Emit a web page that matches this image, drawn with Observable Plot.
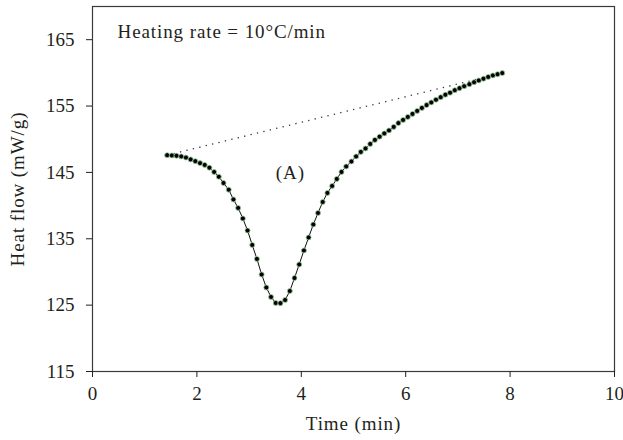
<!DOCTYPE html>
<html>
<head>
<meta charset="utf-8">
<script src="https://cdn.jsdelivr.net/npm/d3@7"></script>
<script src="https://cdn.jsdelivr.net/npm/@observablehq/plot@0.6"></script>
<style>
  html, body { margin: 0; padding: 0; background: #fff; }
  #chart { width: 623px; height: 440px; }
  #chart svg g[aria-label="x-axis label"] text,
  #chart svg g[aria-label="y-axis label"] text,
  #chart svg g[aria-label="text"] text { letter-spacing: 0.9px; }
</style>
</head>
<body>
<div id="chart"></div>
<script>
const time = [1.43,1.52,1.61,1.70,1.79,1.88,1.97,2.06,2.15,2.24,2.33,2.42,2.51,2.61,2.70,2.79,2.88,2.97,3.06,3.15,3.24,3.33,3.42,3.51,3.60,3.69,3.78,3.87,3.96,4.05,4.14,4.23,4.32,4.41,4.50,4.59,4.68,4.77,4.86,4.96,5.05,5.14,5.23,5.32,5.41,5.50,5.59,5.68,5.77,5.86,5.95,6.04,6.13,6.22,6.31,6.40,6.49,6.58,6.67,6.76,6.85,6.94,7.03,7.12,7.22,7.31,7.40,7.49,7.58,7.67,7.76,7.85];
const heatFlow = [147.60,147.56,147.51,147.41,147.23,146.96,146.70,146.40,146.13,145.71,145.07,144.35,143.41,142.40,140.93,139.65,138.06,136.25,134.07,131.96,129.62,127.66,126.23,125.33,125.30,125.78,127.13,129.09,131.13,133.24,135.20,137.16,138.89,140.55,141.91,142.96,144.02,145.07,145.90,146.65,147.41,148.09,148.61,149.29,149.90,150.39,150.88,151.33,151.86,152.43,152.91,153.36,153.82,154.27,154.72,155.14,155.55,155.96,156.33,156.71,157.01,157.39,157.69,157.99,158.29,158.59,158.86,159.12,159.39,159.62,159.80,159.97];
const xTicks = [0, 2, 4, 6, 8, 10];
const yTicks = [115, 125, 135, 145, 155, 165];
const rateNote = [{x: 0.48, y: 166.1, text: "Heating rate = 10°C/min"}];
const peakNote = [{x: 3.79, y: 145.0, text: "(A)"}];

const data = time.map((t, i) => ({t, v: heatFlow[i]}));
const ends = [{x1: time[0], y1: heatFlow[0], x2: time[time.length - 1], y2: heatFlow[heatFlow.length - 1]}];

const chart = Plot.plot({
  width: 623,
  height: 440,
  marginLeft: 92,
  marginRight: 9,
  marginTop: 6,
  marginBottom: 69,
  style: {fontFamily: "'Liberation Serif', 'DejaVu Serif', serif", fontSize: "19px", color: "#231f20", background: "#fff"},
  x: {domain: [0, 10], ticks: xTicks, label: null},
  y: {domain: [115, 170], ticks: yTicks, label: null},
  marks: [
    Plot.frame({stroke: "#3a3a3a", strokeWidth: 1.2}),
    Plot.axisX({ticks: xTicks, tickSize: 6, tickPadding: 9, fontSize: 19, label: "Time (min)", labelAnchor: "center", labelOffset: 58, labelArrow: "none"}),
    Plot.axisY({ticks: yTicks, tickSize: 6, tickPadding: 12, fontSize: 19, label: "Heat flow (mW/g)", labelAnchor: "center", labelOffset: 82, labelArrow: "none"}),
    Plot.link(ends, {x1: "x1", y1: "y1", x2: "x2", y2: "y2", stroke: "#333", strokeWidth: 1.3, strokeDasharray: "1.3,5.3"}),
    Plot.line(data, {x: "t", y: "v", stroke: "#111", strokeWidth: 1}),
    Plot.dot(data, {x: "t", y: "v", r: 2.5, fill: "#000", stroke: "#9fd09f", strokeWidth: 0.8}),
    Plot.text(rateNote, {x: "x", y: "y", text: "text", textAnchor: "start", fontSize: 19, fill: "#231f20"}),
    Plot.text(peakNote, {x: "x", y: "y", text: "text", textAnchor: "middle", fontSize: 19, fill: "#231f20"})
  ]
});
document.getElementById("chart").appendChild(chart);
</script>
</body>
</html>
